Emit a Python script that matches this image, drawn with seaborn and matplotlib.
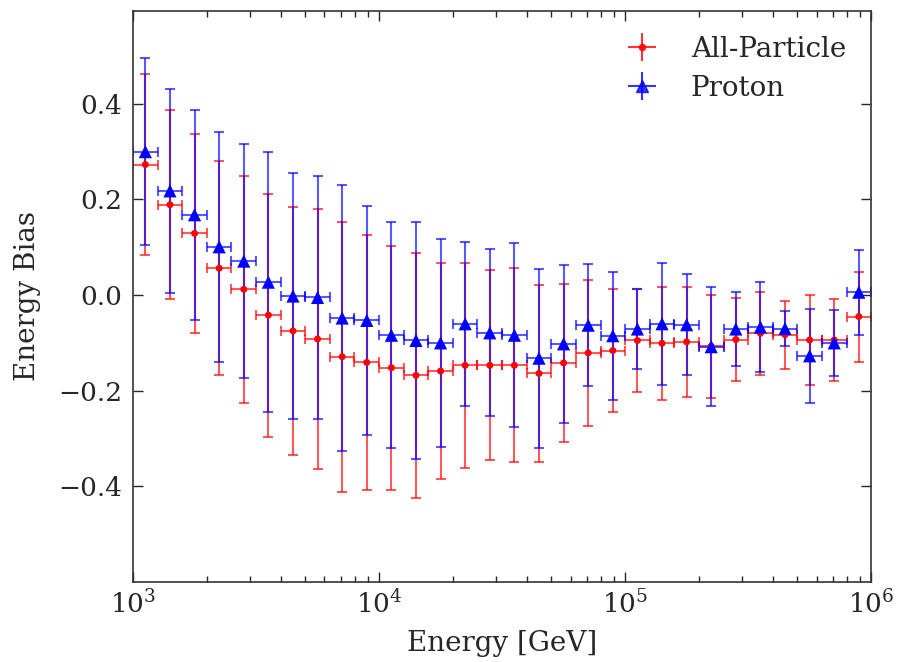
import numpy as np
import pandas as pd
import seaborn as sns
import matplotlib.pyplot as plt

# log10 of bin centres (0.1 dex bins from 10^3 to 10^6 GeV)
log_e_center = [3.05, 3.15, 3.25, 3.35, 3.45, 3.55, 3.65, 3.75, 3.85, 3.95,
                4.05, 4.15, 4.25, 4.35, 4.45, 4.55, 4.65, 4.75, 4.85, 4.95,
                5.05, 5.15, 5.25, 5.35, 5.45, 5.55, 5.65, 5.75, 5.85, 5.95]
bin_half_width = 0.05

all_bias = [0.273, 0.189, 0.129, 0.056, 0.012, -0.042, -0.075, -0.092, -0.129, -0.141,
            -0.152, -0.168, -0.159, -0.147, -0.147, -0.147, -0.164, -0.142, -0.121, -0.116,
            -0.095, -0.101, -0.098, -0.107, -0.093, -0.080, -0.083, -0.094, -0.094, -0.045]
all_err = [0.190, 0.198, 0.208, 0.224, 0.238, 0.254, 0.259, 0.271, 0.282, 0.266,
           0.255, 0.256, 0.226, 0.214, 0.199, 0.203, 0.185, 0.166, 0.152, 0.129,
           0.108, 0.118, 0.115, 0.108, 0.087, 0.087, 0.071, 0.094, 0.085, 0.094]

proton_bias = [0.300, 0.218, 0.168, 0.101, 0.071, 0.027, -0.002, -0.005, -0.048, -0.053,
               -0.084, -0.095, -0.100, -0.060, -0.079, -0.084, -0.132, -0.102, -0.063, -0.085,
               -0.071, -0.060, -0.062, -0.108, -0.071, -0.067, -0.070, -0.127, -0.100, 0.006]
proton_err = [0.196, 0.213, 0.220, 0.241, 0.245, 0.272, 0.258, 0.254, 0.278, 0.240,
              0.236, 0.247, 0.217, 0.172, 0.175, 0.192, 0.187, 0.165, 0.127, 0.134,
              0.083, 0.128, 0.106, 0.125, 0.077, 0.095, 0.037, 0.098, 0.069, 0.089]

sns.set_theme(style="ticks")
plt.rcParams['font.family'] = ['DejaVu Serif']
plt.rcParams['mathtext.fontset'] = 'dejavuserif'

log_c = np.array(log_e_center)
energy = 10 ** log_c
xerr = [energy - 10 ** (log_c - bin_half_width), 10 ** (log_c + bin_half_width) - energy]

df = pd.DataFrame({'energy': np.concatenate([energy, energy]),
                   'bias': all_bias + proton_bias,
                   'err': all_err + proton_err,
                   'sample': ['All-Particle'] * len(energy) + ['Proton'] * len(energy)})

fig, ax = plt.subplots(figsize=(8.99, 6.62), dpi=100)
fig.subplots_adjust(left=0.148, right=0.969, top=0.984, bottom=0.121)

styles = {'All-Particle': dict(color='red', marker='o', ms=4.5),
          'Proton': dict(color='blue', marker='^', ms=9)}
handles = []
for name, st in styles.items():
    sub = df[df['sample'] == name]
    ax.errorbar(sub['energy'], sub['bias'], xerr=xerr, yerr=sub['err'],
                fmt='none', ecolor=st['color'], elinewidth=1.5,
                capsize=3.5, capthick=1.5, alpha=0.65)
    handles.append(ax.errorbar([], [], xerr=[[1]], yerr=[[1]], fmt=st['marker'],
                               color=st['color'], ms=st['ms'], ecolor=st['color'],
                               elinewidth=1.5, capsize=3.5, capthick=1.5, alpha=0.8,
                               label=name))

sns.scatterplot(data=df, x='energy', y='bias', hue='sample', style='sample',
                palette={'All-Particle': 'red', 'Proton': 'blue'},
                markers={'All-Particle': 'o', 'Proton': '^'},
                size='sample', sizes={'All-Particle': 25, 'Proton': 90},
                edgecolor='none', legend=False, ax=ax, zorder=3)

ax.set_xscale('log')
ax.set_xlim(1e3, 1e6)
ax.set_ylim(-0.6, 0.595)
ax.set_yticks([-0.4, -0.2, 0.0, 0.2, 0.4])
ax.set_yticklabels(['\u22120.4', '\u22120.2', '0.0', '0.2', '0.4'])
ax.tick_params(which='both', direction='in', top=True, right=True, labelsize=19)
ax.tick_params(which='major', length=7, width=1)
ax.tick_params(which='minor', length=4, width=1)
ax.tick_params(axis='x', pad=6)
ax.tick_params(axis='y', pad=8)
for sp in ax.spines.values():
    sp.set_linewidth(1.2)
    sp.set_color('#333333')

ax.set_xlabel('Energy [GeV]', fontsize=20, labelpad=8)
ax.set_ylabel('Energy Bias', fontsize=20, labelpad=12)
ax.legend(handles=handles, loc='upper right', frameon=False, fontsize=20,
          numpoints=1, handletextpad=0.75, labelspacing=0.45, borderaxespad=0.5)

fig.savefig('out.png', dpi=100)
